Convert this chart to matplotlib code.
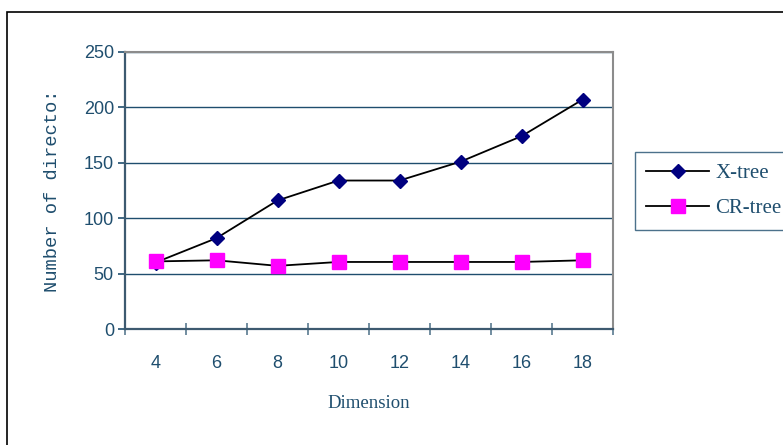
import matplotlib.pyplot as plt
from matplotlib.patches import Rectangle

dimensions = ["4", "6", "8", "10", "12", "14", "16", "18"]
xtree = [60, 82, 116, 134, 134, 151, 174, 207]
crtree = [61, 62, 57, 60.5, 60.5, 60.5, 60.5, 62]
yticks = [0, 50, 100, 150, 200, 250]

ink = "#1f4e6e"
W, H = 783, 445

fig = plt.figure(figsize=(W / 100, H / 100), dpi=100)
fig.patch.set_facecolor("white")

# outer chart frame (right and bottom edges fall outside the image)
fig.add_artist(Rectangle((7 / W, -0.05), 1.2, 1.05 - 12 / H,
                         transform=fig.transFigure, fill=False,
                         edgecolor="black", linewidth=1.2))

ax = fig.add_axes([125 / W, 1 - 329 / H, (613 - 125) / W, (329 - 52) / H])

x = list(range(len(dimensions)))
ax.plot(x, xtree, color="black", linewidth=1.3, marker="D", markersize=7,
        markerfacecolor="#000080", markeredgecolor="#000080", label="X-tree")
ax.plot(x, crtree, color="black", linewidth=1.3, marker="s", markersize=10,
        markerfacecolor="#ff00ff", markeredgecolor="#ff00ff", label="CR-tree")

ax.set_xlim(-0.5, len(dimensions) - 0.5)
ax.set_ylim(0, 250)
ax.set_yticks(yticks)
ax.set_xticks(x)
ax.set_xticklabels(dimensions)
ax.set_xticks([i - 0.5 for i in range(len(dimensions) + 1)], minor=True)
ax.tick_params(axis="x", which="major", length=0, pad=19, labelsize=13,
               labelcolor=ink)
ax.tick_params(axis="x", which="minor", direction="inout", length=9,
               color="#5a7a90", width=1.2)
ax.tick_params(axis="y", direction="out", length=5, color=ink, width=1.2,
               labelsize=13, labelcolor=ink, pad=3)

for lbl in ax.get_xticklabels() + ax.get_yticklabels():
    lbl.set_family("Liberation Sans")

ax.grid(axis="y", color=ink, linewidth=1.0)
ax.set_axisbelow(True)
for side in ("top", "right"):
    ax.spines[side].set_color("#8c8c8c")
    ax.spines[side].set_linewidth(1.5)
for side in ("left", "bottom"):
    ax.spines[side].set_color("#3d5a70")
    ax.spines[side].set_linewidth(1.6)

ax.set_ylabel("Number of directo:", family="Liberation Mono", fontsize=13.5,
              color=ink, labelpad=16)
ax.set_xlabel("Dimension", family="Liberation Serif", fontsize=13.5,
              color=ink, labelpad=16)

leg = fig.legend(loc="upper left", bbox_to_anchor=(635 / W, 1 - 152 / H),
                 frameon=True, fancybox=False, edgecolor=ink,
                 prop={"family": "Liberation Serif", "size": 15},
                 handlelength=3.0, labelspacing=0.75, borderpad=0.55,
                 handletextpad=0.3, borderaxespad=0)
leg.get_frame().set_linewidth(1.0)
for t in leg.get_texts():
    t.set_color(ink)

fig.savefig("out.png", dpi=100)
